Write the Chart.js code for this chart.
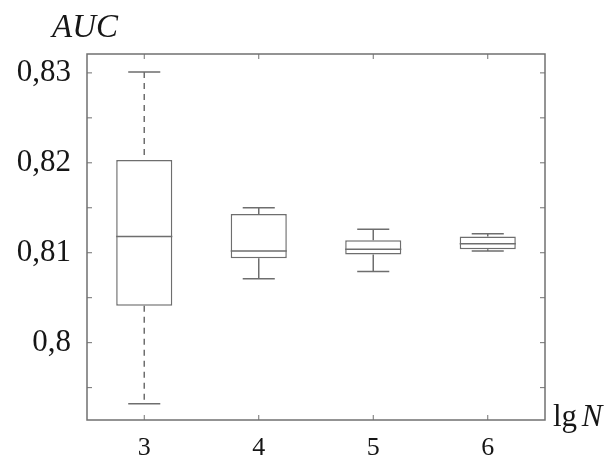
<!DOCTYPE html>
<html>
<head>
<meta charset="utf-8">
<script src="https://cdn.jsdelivr.net/npm/chart.js@4/dist/chart.umd.min.js"></script>
<style>
html,body{margin:0;padding:0;background:#fff;}
#wrap{width:613px;height:461px;}
</style>
</head>
<body>
<div id="wrap"><canvas id="c" width="613" height="461"></canvas></div>
<script>
const categories = ['3', '4', '5', '6'];
const whiskerMin = [0.7932, 0.8071, 0.8079, 0.8102];
const q1 = [0.8041, 0.8094, 0.8098, 0.8104];
const median = [0.8118, 0.8102, 0.8104, 0.8110];
const q3 = [0.8203, 0.8143, 0.8114, 0.8118];
const whiskerMax = [0.8301, 0.8150, 0.8126, 0.8121];
const dashedWhisker = [true, false, false, false];
const yTickValues = [0.795, 0.80, 0.805, 0.81, 0.815, 0.82, 0.825, 0.83];
const yTickLabels = ['', '0,8', '', '0,81', '', '0,82', '', '0,83'];
const yMin = 0.7914, yMax = 0.8321;

const lineColor = '#6e6e6e';
const textColor = '#161616';
const serif = '"Liberation Serif", "DejaVu Serif", serif';

const boxPlugin = {
  id: 'boxExtras',
  afterDatasetsDraw(chart) {
    const ctx = chart.ctx;
    const xs = chart.scales.x, ys = chart.scales.y;
    const meta = chart.getDatasetMeta(0);
    const area = chart.chartArea;
    ctx.save();
    categories.forEach((c, i) => {
      const bar = meta.data[i];
      const cx = xs.getPixelForValue(i);
      const half = bar.width / 2;
      const capHalf = xs.width / categories.length * 0.14;
      ctx.strokeStyle = lineColor;
      ctx.lineWidth = 1.5;
      ctx.setLineDash(dashedWhisker[i] ? [6, 5] : []);
      ctx.beginPath();
      ctx.moveTo(cx, ys.getPixelForValue(whiskerMax[i]));
      ctx.lineTo(cx, ys.getPixelForValue(q3[i]));
      ctx.moveTo(cx, ys.getPixelForValue(q1[i]));
      ctx.lineTo(cx, ys.getPixelForValue(whiskerMin[i]));
      ctx.stroke();
      ctx.setLineDash([]);
      ctx.beginPath();
      [whiskerMax[i], whiskerMin[i]].forEach(v => {
        const y = ys.getPixelForValue(v);
        ctx.moveTo(cx - capHalf, y);
        ctx.lineTo(cx + capHalf, y);
      });
      const my = ys.getPixelForValue(median[i]);
      ctx.moveTo(cx - half, my);
      ctx.lineTo(cx + half, my);
      ctx.stroke();
    });
    ctx.strokeStyle = '#707070';
    ctx.lineWidth = 1.5;
    ctx.strokeRect(area.left, area.top, area.right - area.left, area.bottom - area.top);
    ctx.lineWidth = 1;
    ctx.beginPath();
    ys.ticks.forEach(t => {
      const y = ys.getPixelForValue(t.value);
      ctx.moveTo(area.left, y); ctx.lineTo(area.left + 5, y);
      ctx.moveTo(area.right, y); ctx.lineTo(area.right - 5, y);
    });
    categories.forEach((c, i) => {
      const x = xs.getPixelForValue(i);
      ctx.moveTo(x, area.bottom); ctx.lineTo(x, area.bottom - 5);
      ctx.moveTo(x, area.top); ctx.lineTo(x, area.top + 5);
    });
    ctx.stroke();
    ctx.fillStyle = textColor;
    ctx.textBaseline = 'alphabetic';
    ctx.textAlign = 'left';
    ctx.font = 'italic 33px ' + serif;
    ctx.fillText('AUC', 52, 37);
    ctx.font = '31px ' + serif;
    ctx.fillText('lg', 553, 426);
    const w = ctx.measureText('lg ').width;
    ctx.font = 'italic 31px ' + serif;
    ctx.fillText('N', 553 + w - 3, 426);
    ctx.restore();
  }
};

new Chart(document.getElementById('c'), {
  type: 'bar',
  data: {
    labels: categories,
    datasets: [{
      data: categories.map((c, i) => [q1[i], q3[i]]),
      backgroundColor: '#ffffff',
      borderColor: lineColor,
      borderWidth: 1.5,
      borderSkipped: false,
      barPercentage: 0.49,
      categoryPercentage: 1.0
    }]
  },
  options: {
    responsive: false,
    animation: false,
    layout: { padding: { left: 0, right: 68, top: 54, bottom: 0 } },
    plugins: { legend: { display: false }, tooltip: { enabled: false } },
    scales: {
      x: {
        grid: { display: false, drawTicks: false },
        border: { display: false },
        ticks: { font: { family: serif, size: 26 }, color: textColor, padding: 13 },
        afterFit(s) { s.height = 41; }
      },
      y: {
        min: yMin,
        max: yMax,
        grid: { display: false, drawTicks: false },
        border: { display: false },
        afterBuildTicks(s) { s.ticks = yTickValues.map(v => ({ value: v })); },
        ticks: {
          font: { family: serif, size: 31 },
          color: textColor,
          padding: 16,
          autoSkip: false,
          callback(v, idx) { return yTickLabels[idx]; }
        },
        afterFit(s) { s.width = 87; }
      }
    }
  },
  plugins: [boxPlugin]
});
</script>
</body>
</html>
